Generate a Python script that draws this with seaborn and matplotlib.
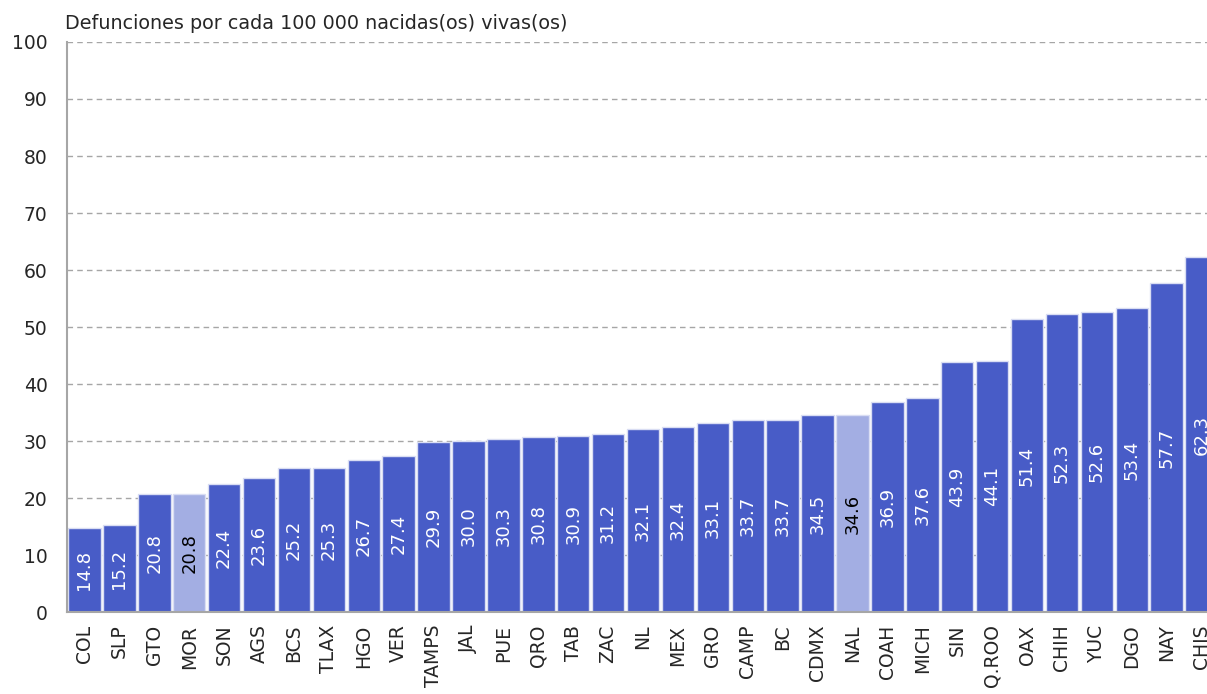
import numpy as np
import pandas as pd
import matplotlib
matplotlib.use("Agg")
from matplotlib import pyplot as plt
import seaborn as sb

sb.set_style('white')

# data
estados = ["COL", "SLP", "GTO", "MOR", "SON", "AGS", "BCS", "TLAX", "HGO", "VER",
           "TAMPS", "JAL", "PUE", "QRO", "TAB", "ZAC", "NL", "MEX", "GRO", "CAMP",
           "BC", "CDMX", "NAL", "COAH", "MICH", "SIN", "Q.ROO", "OAX", "CHIH",
           "YUC", "DGO", "NAY", "CHIS"]
tasas = [14.8, 15.2, 20.8, 20.8, 22.4, 23.6, 25.2, 25.3, 26.7, 27.4,
         29.9, 30.0, 30.3, 30.8, 30.9, 31.2, 32.1, 32.4, 33.1, 33.7,
         33.7, 34.5, 34.6, 36.9, 37.6, 43.9, 44.1, 51.4, 52.3,
         52.6, 53.4, 57.7, 62.3]
resaltados = ["MOR", "NAL"]
titulo = "Defunciones por cada 100 000 nacidas(os) vivas(os)"

azul = "#485CC7"
azul_claro = "#A3AEE3"

df = pd.DataFrame({"estado": estados, "tasa": tasas})
colores = {e: (azul_claro if e in resaltados else azul) for e in estados}

plt.rcParams['font.family'] = ['DejaVu Sans']

fig = plt.figure(figsize=(12.07, 6.94), dpi=100)
ax = fig.add_axes([0.0555, 0.118, 0.9545, 0.8215])

sb.barplot(data=df, x="estado", y="tasa", hue="estado", palette=colores,
           legend=False, width=0.93, edgecolor="#D9DDF3", linewidth=1,
           saturation=1, ax=ax, zorder=2)

# value labels in the middle of each bar
for i, (e, v) in enumerate(zip(estados, tasas)):
    ax.text(i, v / 2, f"{v:.1f}", rotation=90, ha="center", va="center",
            fontsize=13, color=("black" if e in resaltados else "white"),
            zorder=3)

n = len(estados)
ax.set_xlim(-0.5, n - 0.5)
ax.set_ylim(0, 100)
ax.set_yticks(np.arange(0, 101, 10))
ax.yaxis.grid(True, linestyle=(0, (4, 3)), color="#A6A6A6", linewidth=1, zorder=0)
ax.set_axisbelow(True)

ax.set_xticks(np.arange(n))
ax.set_xticklabels(estados, rotation=90, fontsize=13.5)
ax.set_xticks(np.arange(-0.5, n, 1), minor=True)
ax.tick_params(axis="x", which="major", length=0, pad=9)
ax.tick_params(axis="x", which="minor", length=6, color="#A6A6A6", width=1.2)
ax.tick_params(axis="y", direction="inout", length=12, color="#A6A6A6",
               width=1.2, labelsize=13.5, pad=8)

for s in ["top", "right"]:
    ax.spines[s].set_visible(False)
for s in ["left", "bottom"]:
    ax.spines[s].set_color("#A6A6A6")
    ax.spines[s].set_linewidth(1.5)

ax.set_xlabel("")
ax.set_ylabel("")
fig.text(0.054, 0.953, titulo, fontsize=13.8, ha="left", va="bottom")

plt.savefig("out.png", dpi=100)
